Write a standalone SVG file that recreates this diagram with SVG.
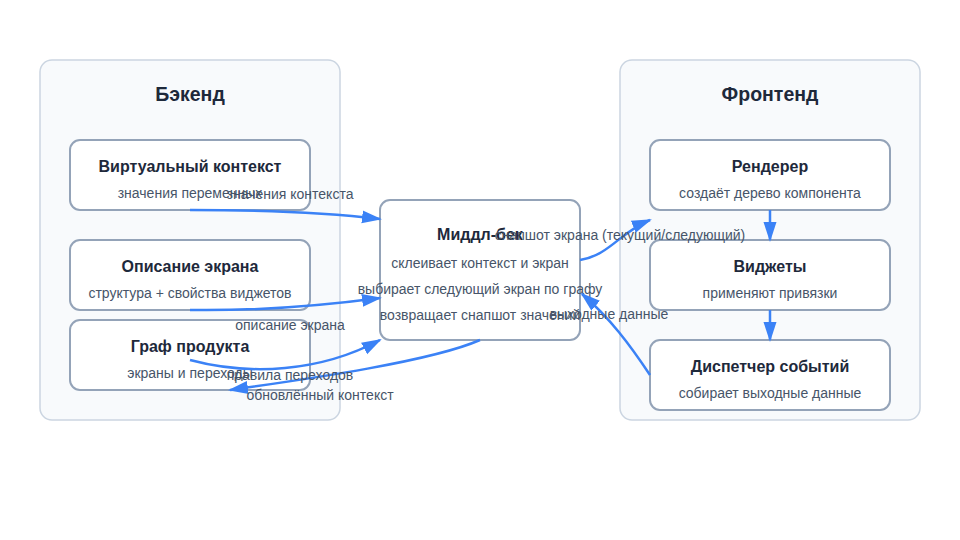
<svg xmlns="http://www.w3.org/2000/svg" width="960" height="540" viewBox="0 0 960 540">
<defs>
<style>
.cluster{fill:#f8fafc;stroke:#cbd5e1;stroke-width:1.5}
.ctitle{font-family:"Liberation Sans",Arial,sans-serif;font-size:19.5px;font-weight:bold;fill:#1e293b;text-anchor:middle}
.node{fill:#ffffff;stroke:#94a3b8;stroke-width:2}
.title{font-family:"Liberation Sans",Arial,sans-serif;font-size:16px;font-weight:bold;fill:#1e293b;text-anchor:middle}
.sub{font-family:"Liberation Sans",Arial,sans-serif;font-size:14px;fill:#475569;text-anchor:middle}
.edge{fill:none;stroke:#3b82f6;stroke-width:2.5;marker-end:url(#arrow)}
.elabel{font-family:"Liberation Sans",Arial,sans-serif;font-size:14px;fill:#475569;text-anchor:middle}
</style>
<marker id="arrow" viewBox="0 0 10 10" refX="9" refY="5" markerWidth="8" markerHeight="8" orient="auto" markerUnits="strokeWidth">
<path d="M0,1.75 L10,5 L0,8.25 z" fill="#3b82f6"/>
</marker>
</defs>
<rect width="960" height="540" fill="#ffffff"/>
<g id="backend">
<rect class="cluster" x="40" y="60" width="300" height="360" rx="12"/>
<text class="ctitle" x="190" y="101">Бэкенд</text>
</g>
<g id="frontend">
<rect class="cluster" x="620" y="60" width="300" height="360" rx="12"/>
<text class="ctitle" x="770" y="101">Фронтенд</text>
</g>
<g id="virtual-context">
<rect class="node" x="70" y="140" width="240" height="70" rx="10"/>
<text class="title" x="190" y="172">Виртуальный контекст</text>
<text class="sub" x="190" y="198">значения переменных</text>
</g>
<g id="screen-description">
<rect class="node" x="70" y="240" width="240" height="70" rx="10"/>
<text class="title" x="190" y="272">Описание экрана</text>
<text class="sub" x="190" y="298">структура + свойства виджетов</text>
</g>
<g id="product-graph">
<rect class="node" x="70" y="320" width="240" height="70" rx="10"/>
<text class="title" x="190" y="352">Граф продукта</text>
<text class="sub" x="190" y="378">экраны и переходы</text>
</g>
<g id="middleback">
<rect class="node" x="380" y="200" width="200" height="140" rx="10"/>
<text class="title" x="480" y="240">Миддл-бек</text>
<text class="sub" x="480" y="268">склеивает контекст и экран</text>
<text class="sub" x="480" y="294">выбирает следующий экран по графу</text>
<text class="sub" x="480" y="320">возвращает снапшот значений</text>
</g>
<g id="renderer">
<rect class="node" x="650" y="140" width="240" height="70" rx="10"/>
<text class="title" x="770" y="172">Рендерер</text>
<text class="sub" x="770" y="198">создаёт дерево компонента</text>
</g>
<g id="widgets">
<rect class="node" x="650" y="240" width="240" height="70" rx="10"/>
<text class="title" x="770" y="272">Виджеты</text>
<text class="sub" x="770" y="298">применяют привязки</text>
</g>
<g id="dispatcher">
<rect class="node" x="650" y="340" width="240" height="70" rx="10"/>
<text class="title" x="770" y="372">Диспетчер событий</text>
<text class="sub" x="770" y="398">собирает выходные данные</text>
</g>
<g id="connectors">
<path class="edge" d="M190,210 C260,210 320,212 380,219"/>
<path class="edge" d="M190,310 C260,311 320,306 380,298"/>
<path class="edge" d="M190,360 C250,376 320,372 380,340"/>
<path class="edge" d="M480,340 C430,362 300,380 230,390"/>
<path class="edge" d="M580,260 C610,255 620,232 650,220"/>
<path class="edge" d="M650,375 C630,345 610,318 582,294"/>
<path class="edge" d="M770,210 L770,240"/>
<path class="edge" d="M770,310 L770,340"/>
<text class="elabel" x="290" y="199">значения контекста</text>
<text class="elabel" x="290" y="330">описание экрана</text>
<text class="elabel" x="290" y="380">правила переходов</text>
<text class="elabel" x="320" y="400">обновлённый контекст</text>
<text class="elabel" x="620" y="240">снапшот экрана (текущий/следующий)</text>
<text class="elabel" x="609" y="319">выходные данные</text>
</g>
</svg>
